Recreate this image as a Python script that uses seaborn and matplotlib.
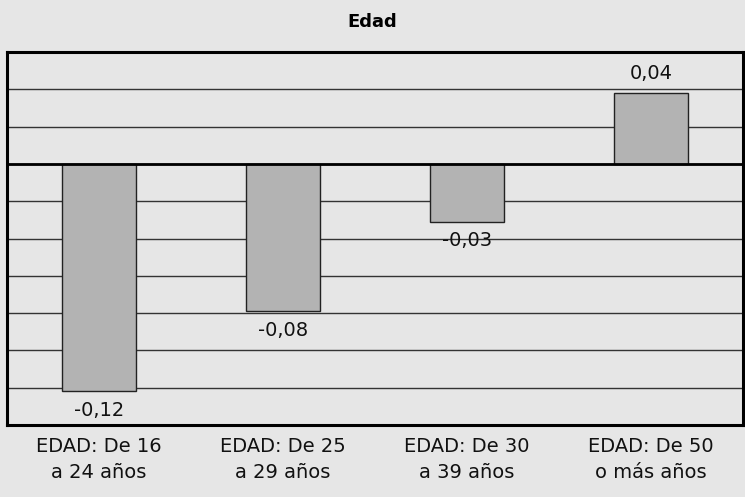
import numpy as np
import pandas as pd
import matplotlib
matplotlib.use('Agg')
import matplotlib.pyplot as plt
import seaborn as sns

# data
categories = ['EDAD: De 16\na 24 años', 'EDAD: De 25\na 29 años',
              'EDAD: De 30\na 39 años', 'EDAD: De 50\no más años']
values = [-0.122, -0.079, -0.031, 0.038]
title = 'Edad'

bg = '#e6e6e6'
sns.set_style('white')
plt.rcParams['font.family'] = ['DejaVu Sans']
plt.rcParams['text.color'] = '#111111'

df = pd.DataFrame({'cat': categories, 'val': values})

fig = plt.figure(figsize=(7.45, 4.97), dpi=100, facecolor=bg)
ax = fig.add_axes([7 / 745, 72 / 497, 736 / 745, 373 / 497])
ax.set_facecolor(bg)

sns.barplot(data=df, x='cat', y='val', color='#b3b3b3', width=0.4,
            edgecolor='#222222', linewidth=1, saturation=1, ax=ax, zorder=3)

ax.set_xlim(-0.5, 3.5)
ax.set_ylim(-0.14, 0.06)
ax.set_yticks(np.arange(-0.14, 0.061, 0.02))
ax.set_yticklabels([])
ax.tick_params(axis='both', length=0)
ax.grid(axis='y', color='#333333', linewidth=1, zorder=0)
ax.set_axisbelow(True)
ax.axhline(0, color='black', linewidth=2, zorder=4)
for s in ax.spines.values():
    s.set_color('black')
    s.set_linewidth(2.2)

ax.set_xlabel('')
ax.set_ylabel('')
ax.set_xticks(range(len(categories)))
ax.set_xticklabels(categories, fontsize=14, color='#111111', linespacing=1.4)
ax.tick_params(axis='x', pad=9)

# value labels
for i, v in enumerate(values):
    txt = f'{v:.2f}'.replace('.', ',')
    if v >= 0:
        ax.annotate(txt, (i, v), xytext=(0, 7), textcoords='offset points',
                    ha='center', va='bottom', fontsize=14, color='#111111')
    else:
        ax.annotate(txt, (i, v), xytext=(0, -7), textcoords='offset points',
                    ha='center', va='top', fontsize=14, color='#111111')

fig.text(0.5, 1 - 22 / 497, title, ha='center', va='center',
         fontsize=13, fontweight='heavy', color='black')

fig.savefig('out.png', dpi=100, facecolor=bg)
